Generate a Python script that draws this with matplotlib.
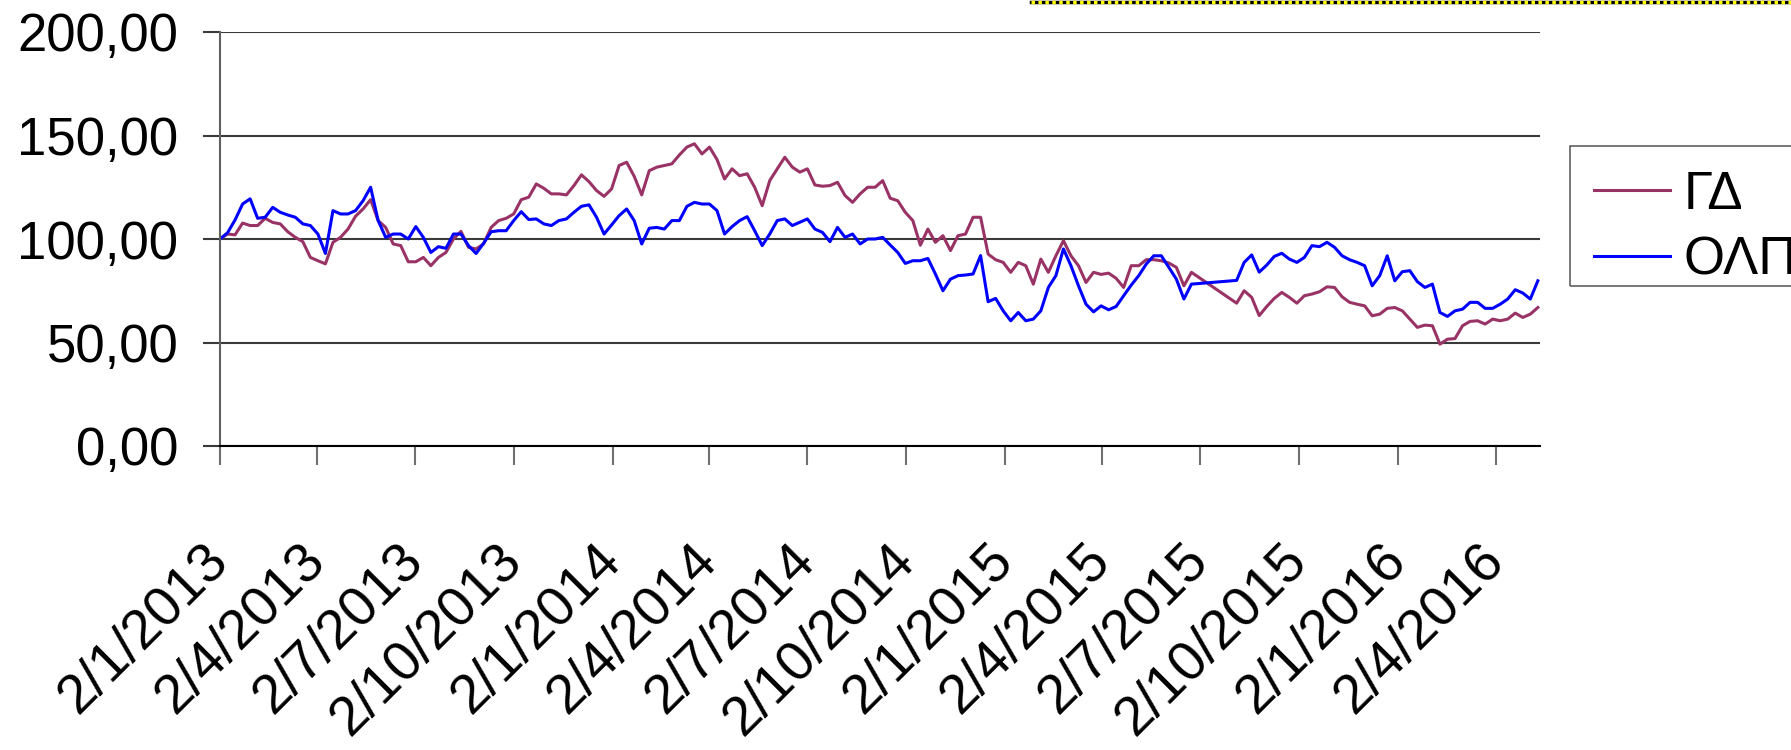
import matplotlib
matplotlib.use("Agg")
import matplotlib.pyplot as plt
from matplotlib.lines import Line2D
from matplotlib.patches import Rectangle
from matplotlib.ticker import FuncFormatter
import pandas as pd

plt.rcParams['font.family'] = ['Liberation Sans', 'DejaVu Sans']

# ---------------- data (weekly readings, index = 100 on 2/1/2013) ----------------
start_date = "2013-01-02"
n_weeks = 176
series_names = ["ΓΔ", "ΟΛΠ"]

gd_values = [
    100, 102.4, 102, 107.7, 106.5, 106.5, 110, 108, 107.3, 103.5,
    100.8, 98.7, 91.1, 89.5, 88, 98.4, 100.8, 104.8, 111, 114.5,
    119, 108.9, 105.6, 97.6, 96.8, 89, 89, 91.1, 87.1, 91.1,
    93.5, 100, 103.7, 96, 95.2, 97.6, 105.6, 108.9, 110, 112.1,
    119, 120.2, 126.6, 124.5, 121.8, 121.8, 121.3, 125.8, 131, 127.7,
    123.4, 120.6, 124.2, 135.5, 137.1, 130.3, 121.3, 133, 134.7, 135.5,
    136.3, 140.6, 144.4, 146, 141.1, 144.4, 138.4, 129, 133.9, 130.6,
    131.5, 125, 116.1, 128.2, 133.9, 139.5, 134.7, 132.3, 133.9, 126.1,
    125.5, 125.8, 127.4, 121, 117.7, 121.8, 125, 125, 128.2, 119.7,
    118.5, 112.9, 108.9, 97, 104.8, 98.4, 101.6, 94.4, 101.6, 102.4,
    110.5, 110.5, 92.7, 90, 88.7, 83.9, 88.7, 87.1, 78.2, 90.3,
    83.9, 91.9, 99.2, 91.9, 87.1, 79, 83.9, 82.9, 83.5, 81,
    76.6, 87.1, 87.1, 90, 90, 89.5, 88.4, 86.3, 77.4, 83.9,
    None, None, None, None, None,
    69, 75, 71.8, 63, 67.4, 71.3, 74.2, 71.8, 69, 72.6,
    73.4, 74.5, 76.9, 76.6, 72.1, 69.4, 68.5, 67.7, 62.9, 63.7,
    66.5, 66.9, 65.3, 61.3, 57.3, 58.4, 58.1, 49.2, 51.6, 51.9,
    58.1, 60.2, 60.5, 58.9, 61.3, 60.5, 61.3, 64.2, 62.1, 63.7,
    66.9,
]

olp_values = [
    100, 103, 109.2, 116.9, 119.4, 110, 110.5, 115.3, 112.9, 111.6,
    110.5, 107.3, 106.5, 102.4, 93, 113.7, 112.1, 112.1, 113.7, 118.5,
    125, 108.9, 100.8, 102.4, 102.4, 100, 106, 100.8, 93.5, 96.3,
    95.5, 102.4, 102.4, 96.8, 93, 97.9, 103.5, 104, 104, 108.9,
    113.2, 109.4, 109.7, 107.3, 106.5, 108.9, 109.7, 112.9, 115.8, 116.5,
    110.5, 102.4, 106.8, 111.3, 114.5, 108.9, 97.6, 105.2, 105.6, 104.8,
    108.9, 108.9, 115.8, 117.7, 116.9, 116.9, 113.7, 102.4, 106, 108.9,
    110.8, 104, 96.8, 102.4, 108.9, 109.7, 106.5, 108.1, 109.7, 104.8,
    103.2, 98.7, 105.6, 100.8, 102.4, 97.6, 100, 100, 100.8, 97.1,
    93.5, 88.2, 89.5, 89.5, 90.6, 83.1, 75, 80.6, 82.3, 82.6,
    83.1, 92, 69.7, 71.3, 65.3, 60.5, 64.5, 60.5, 61.3, 65.3,
    76.6, 82.3, 95.2, 87.1, 77.4, 68.5, 64.8, 67.7, 65.8, 67.4,
    72.6, 77.7, 82.3, 87.9, 91.9, 91.9, 86.3, 80.6, 71, 78.2,
    None, None, None, None, None,
    80, 88.7, 92.3, 84, 87.4, 91.6, 93.1, 90.3, 88.7, 91.1,
    96.8, 96.3, 98.4, 96, 91.9, 90, 88.7, 87.1, 77.4, 82.3,
    91.9, 79.8, 84.2, 84.7, 79.4, 76.6, 78.2, 64.5, 62.6, 65.3,
    66.1, 69.4, 69.4, 66.5, 66.5, 68.5, 71, 75.5, 73.9, 71,
    79.8,
]

y_ticks = [0, 50, 100, 150, 200]
x_tick_dates = pd.date_range("2013-01-01", "2016-04-01", freq="3MS") + pd.Timedelta(days=1)

# ---------------- figure ----------------
W, H, DPI = 1791, 750, 100
fig = plt.figure(figsize=(W / DPI, H / DPI), dpi=DPI)
ax = fig.add_axes([220 / W, 1 - 446 / H, (1540 - 220) / W, (446 - 32) / H])

dates = pd.date_range(start_date, periods=n_weeks, freq="7D")
df = pd.DataFrame({"date": dates, "gd": gd_values, "olp": olp_values}).dropna()

ax.plot(df["date"], df["gd"], color="#993366", lw=2.2, label=series_names[0])
ax.plot(df["date"], df["olp"], color="#0000FF", lw=2.2, label=series_names[1])

ax.set_ylim(0, 200)
ax.set_xlim(pd.Timestamp("2013-01-02"), pd.Timestamp("2016-05-13"))
ax.set_yticks(y_ticks)
ax.yaxis.set_major_formatter(FuncFormatter(lambda v, p: f"{v:.2f}".replace(".", ",")))
ax.set_xticks(x_tick_dates)
ax.set_xticklabels([f"{d.day}/{d.month}/{d.year}" for d in x_tick_dates])

ax.grid(axis="y", color="#3a3a3a", lw=1.5)
ax.set_axisbelow(True)
for s in ["top", "right"]:
    ax.spines[s].set_visible(False)
ax.spines["left"].set_color("#606060")
ax.spines["left"].set_linewidth(1.5)
ax.spines["bottom"].set_color("black")
ax.spines["bottom"].set_linewidth(1.5)

ax.tick_params(axis="y", direction="out", length=12, width=1.5, color="#3a3a3a",
               labelsize=38, pad=18)
ax.tick_params(axis="x", direction="out", length=14, width=1.5, color="#707070",
               labelsize=40, pad=63)
for lab in ax.get_xticklabels():
    lab.set_rotation(45)
    lab.set_ha("right")
    lab.set_va("center")
    lab.set_rotation_mode("anchor")

leg = fig.legend(loc="upper left", bbox_to_anchor=(1570 / W, 1 - 146 / H),
                 bbox_transform=fig.transFigure, fontsize=38, frameon=False,
                 borderaxespad=0, handlelength=1.45, handletextpad=0.25,
                 labelspacing=0.3, borderpad=0.45)
fig.add_artist(Rectangle((1570 / W, 1 - 286 / H), (1810 - 1570) / W, 140 / H,
                         transform=fig.transFigure, facecolor="none",
                         edgecolor="#606060", lw=1.2))

# dotted yellow border line at top right
fig.add_artist(Line2D([1031 / W, 1.0], [1 - 2 / H, 1 - 2 / H], transform=fig.transFigure,
                      color="black", lw=2.5))
fig.add_artist(Line2D([1031 / W, 1.0], [1 - 2 / H, 1 - 2 / H], transform=fig.transFigure,
                      color="#FFFF00", lw=2.5, linestyle=(0, (1, 1))))

fig.savefig("out.png", dpi=DPI)
